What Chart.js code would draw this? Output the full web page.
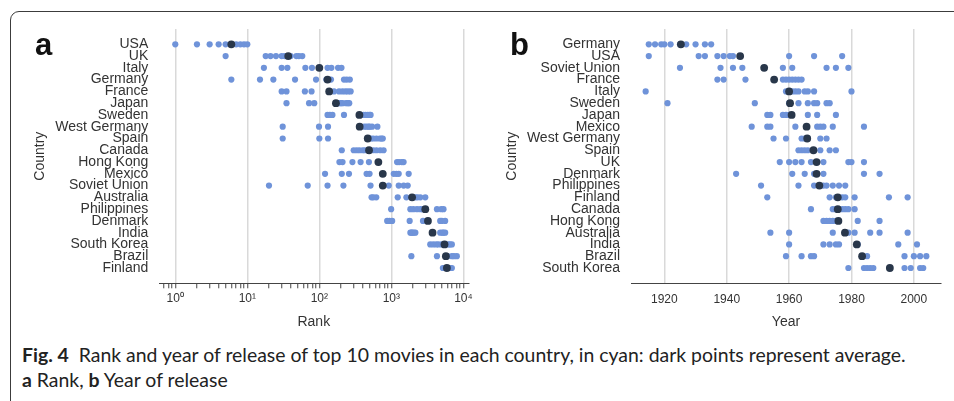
<!DOCTYPE html>
<html>
<head>
<meta charset="utf-8">
<script src="https://cdn.jsdelivr.net/npm/chart.js@4"></script>
<style>
  body { margin: 0; width: 954px; height: 401px; overflow: hidden; background: #fff; font-family: "Liberation Sans", Arial, sans-serif; }
  .frame { position: absolute; left: 9.5px; top: 10.5px; width: 980px; height: 430px; border: 1.3px solid #3c3c3c; border-radius: 9px; }
  canvas { position: absolute; top: 0; }
  .panel { position: absolute; font-weight: bold; font-size: 31px; line-height: 31px; color: #111; }
  #caption { position: absolute; left: 22px; top: 342px; line-height: 25px; color: #222; white-space: nowrap; font-family: Lato, "Liberation Sans", sans-serif; }
</style>
</head>
<body>
<div class="frame"></div>
<canvas id="rankChart" width="478" height="335" style="left:0"></canvas>
<canvas id="yearChart" width="474" height="335" style="left:480px"></canvas>
<div class="panel" style="left:35px;top:28.7px">a</div>
<div class="panel" style="left:510px;top:28.7px">b</div>
<div id="caption">
  <div id="cap1"><b>Fig. 4</b>&nbsp; Rank and year of release of top 10 movies in each country, in cyan: dark points represent average.</div>
  <div id="cap2"><b>a</b> Rank, <b>b</b> Year of release</div>
</div>
<script>
// panel a: rank of top 10 movies per country
const rankCountries = ['USA', 'UK', 'Italy', 'Germany', 'France', 'Japan', 'Sweden', 'West Germany', 'Spain', 'Canada',
  'Hong Kong', 'Mexico', 'Soviet Union', 'Australia', 'Philippines', 'Denmark', 'India', 'South Korea', 'Brazil', 'Finland'];
const rankValues = [
  [1, 2, 3, 4, 5, 6, 7, 8, 9, 10],
  [5, 18, 21, 25, 30, 33, 40, 48, 52, 58],
  [17, 30, 36, 64, 79, 100, 130, 147, 182, 203],
  [6, 15, 23, 46, 90, 125, 145, 220, 240, 265],
  [30, 35, 63, 78, 160, 188, 209, 230, 250, 272],
  [35, 72, 85, 170, 190, 200, 210, 235, 250, 260],
  [130, 140, 152, 220, 360, 410, 440, 470, 500, 515],
  [31, 99, 132, 360, 420, 450, 480, 500, 540, 640],
  [31, 100, 132, 470, 520, 560, 620, 690, 730, 760],
  [205, 300, 330, 360, 400, 430, 560, 620, 700, 780],
  [190, 210, 288, 374, 488, 660, 1200, 1280, 1400, 1480],
  [120, 205, 258, 453, 498, 760, 1080, 1176, 1265, 1740],
  [20, 69, 130, 216, 514, 760, 920, 1265, 1483, 1686],
  [531, 560, 617, 1225, 1617, 1937, 2153, 2300, 2523, 2958],
  [993, 1836, 2020, 2270, 2523, 2700, 2958, 4295, 4920, 5296],
  [875, 940, 1026, 1795, 2748, 3221, 4764, 5000, 5585],
  [1836, 1900, 1955, 2050, 2153, 3733, 4764, 5100, 5300, 5585],
  [3467, 3819, 4200, 4519, 5000, 5470, 6209, 6500, 6918],
  [1895, 4295, 5714, 6000, 6918, 7400, 8110],
  [5190, 5500, 5900, 6200, 6600, 6918]
];
const rankAverage = [6, 37, 100, 130, 137, 170, 360, 363, 470, 490, 660, 760, 760, 1940, 2960, 3220, 3730, 5470, 5714, 5900];
const rankMajorTicks = [1, 10, 100, 1000, 10000];
const rankTickLabels = ['10⁰', '10¹', '10²', '10³', '10⁴'];

// panel b: year of release
const yearCountries = ['Germany', 'USA', 'Soviet Union', 'France', 'Italy', 'Sweden', 'Japan', 'Mexico', 'West Germany', 'Spain',
  'UK', 'Denmark', 'Philippines', 'Finland', 'Canada', 'Hong Kong', 'Australia', 'India', 'Brazil', 'South Korea'];
const yearValues = [
  [1915, 1917, 1919, 1920, 1922, 1925, 1927, 1930, 1933, 1935],
  [1915, 1931, 1933, 1937, 1939, 1941, 1942, 1960, 1968, 1977],
  [1925, 1938, 1942, 1945, 1958, 1961, 1972, 1975, 1979],
  [1937, 1939, 1946, 1958, 1959, 1960, 1961, 1962, 1963, 1964],
  [1914, 1959, 1960, 1961, 1962, 1963, 1965, 1966, 1968, 1980],
  [1921, 1949, 1960, 1963, 1966, 1968, 1969, 1972, 1973],
  [1953, 1954, 1958, 1959, 1960, 1966, 1969, 1975],
  [1948, 1953, 1954, 1962, 1969, 1970, 1971, 1974, 1984],
  [1955, 1959, 1964, 1965, 1966, 1970, 1972],
  [1963, 1964, 1965, 1966, 1968, 1970, 1973, 1975],
  [1957, 1960, 1962, 1964, 1967, 1969, 1971, 1979, 1980, 1984],
  [1943, 1961, 1965, 1968, 1969, 1971, 1984, 1989],
  [1951, 1963, 1968, 1971, 1972, 1974, 1976, 1978],
  [1953, 1973, 1975, 1977, 1978, 1981, 1992, 1998],
  [1967, 1974, 1975, 1977, 1978, 1979, 1981],
  [1971, 1972, 1973, 1974, 1975, 1982, 1989],
  [1954, 1960, 1974, 1979, 1981, 1986, 1989, 1998],
  [1960, 1971, 1973, 1975, 1976, 1982, 1995, 2001],
  [1959, 1964, 1967, 1968, 1985, 1997, 2000, 2002, 2004],
  [1979, 1984, 1985, 1986, 1987, 1997, 1999, 2002, 2003]
];
const yearAverage = [1925.3, 1944.3, 1952, 1955.2, 1960, 1960.3, 1960.8, 1965.6, 1965.8, 1967.8,
  1968.8, 1968.8, 1969.7, 1975.6, 1975.6, 1975.8, 1977.9, 1981.7, 1983.4, 1992.3];
const yearTicks = [1920, 1940, 1960, 1980, 2000];

const BLUE = '#6f93d9';
const DARK = '#29374a';
const GRID = '#d9d9d9';
const TEXT = '#333';

Chart.defaults.font.family = '"Liberation Sans", Arial, sans-serif';
Chart.defaults.color = TEXT;

function toPoints(values) {
  return values.flatMap((row, i) => row.map(v => ({ x: v, y: i })));
}

function rowAxis(names, width) {
  return {
    type: 'linear',
    reverse: true,
    min: -1.3,
    max: names.length + 0.3,
    grid: { display: false, drawTicks: false },
    border: { display: false },
    afterBuildTicks: s => { s.ticks = names.map((_, i) => ({ value: i })); },
    afterFit: s => { s.width = width; },
    ticks: {
      autoSkip: false,
      padding: 11,
      font: { size: 14 },
      color: TEXT,
      callback: v => names[v]
    },
    title: { display: true, text: 'Country', font: { size: 14 }, color: TEXT }
  };
}

// averages get the lower order so they are drawn on top
function makeDatasets(values, avg) {
  return [
    { data: toPoints(values), backgroundColor: BLUE, pointRadius: 3.1, borderWidth: 0, order: 2 },
    { data: avg.map((v, i) => ({ x: v, y: i })), backgroundColor: DARK, pointRadius: 3.9, borderWidth: 0, order: 1 }
  ];
}

const baseOptions = {
  responsive: false,
  animation: false,
  events: [],
  plugins: { legend: { display: false }, tooltip: { enabled: false } }
};

// minor tick positions for the log axis
const rankAllTicks = [];
for (let d = 0.1; d <= 1000; d *= 10) {
  for (let m = 1; m <= 9; m++) {
    const v = Math.round(m * d * 10) / 10;
    if (v >= 0.7) rankAllTicks.push(v);
  }
}
rankAllTicks.push(10000);

new Chart(document.getElementById('rankChart'), {
  type: 'scatter',
  data: { datasets: makeDatasets(rankValues, rankAverage) },
  options: {
    ...baseOptions,
    layout: { padding: { left: 27.6, top: 29, right: 9.7, bottom: 0 } },
    scales: {
      x: {
        type: 'logarithmic',
        min: 0.63,
        max: 11700,
        afterBuildTicks: s => { s.ticks = rankAllTicks.map(v => ({ value: v })); },
        afterFit: s => { s.height = 51.7; },
        grid: {
          color: c => (c.tick && rankMajorTicks.includes(c.tick.value)) ? GRID : 'rgba(0,0,0,0)',
          lineWidth: 1.5,
          tickColor: '#444',
          tickLength: 5,
          tickWidth: 1
        },
        border: { display: true, color: '#444', width: 1 },
        ticks: {
          autoSkip: false,
          maxRotation: 0,
          minRotation: 0,
          padding: 3,
          font: { size: 12 },
          color: TEXT,
          callback: v => {
            const k = rankMajorTicks.indexOf(v);
            return k >= 0 ? rankTickLabels[k] : '';
          }
        },
        title: { display: true, text: 'Rank', font: { size: 14 }, color: TEXT }
      },
      y: rowAxis(rankCountries, 131.7)
    }
  }
});

new Chart(document.getElementById('yearChart'), {
  type: 'scatter',
  data: { datasets: makeDatasets(yearValues, yearAverage) },
  options: {
    ...baseOptions,
    layout: { padding: { left: 19.6, top: 29, right: 13, bottom: 0 } },
    scales: {
      x: {
        type: 'linear',
        min: 1909.3,
        max: 2008.7,
        afterBuildTicks: s => { s.ticks = yearTicks.map(v => ({ value: v })); },
        afterFit: s => { s.height = 51.7; },
        grid: { color: GRID, lineWidth: 1.5, drawTicks: false },
        border: { display: true, color: '#444', width: 1 },
        ticks: {
          autoSkip: false,
          maxRotation: 0,
          padding: 9,
          font: { size: 12 },
          color: TEXT,
          callback: v => String(v)
        },
        title: { display: true, text: 'Year', font: { size: 14 }, color: TEXT }
      },
      y: rowAxis(yearCountries, 131.4)
    }
  }
});

// fit caption line to the reference width
const cap = document.getElementById('caption');
cap.style.fontSize = '18px';
const w = document.getElementById('cap1').getBoundingClientRect().width;
cap.style.fontSize = (18 * 884 / w).toFixed(2) + 'px';
</script>
</body>
</html>
